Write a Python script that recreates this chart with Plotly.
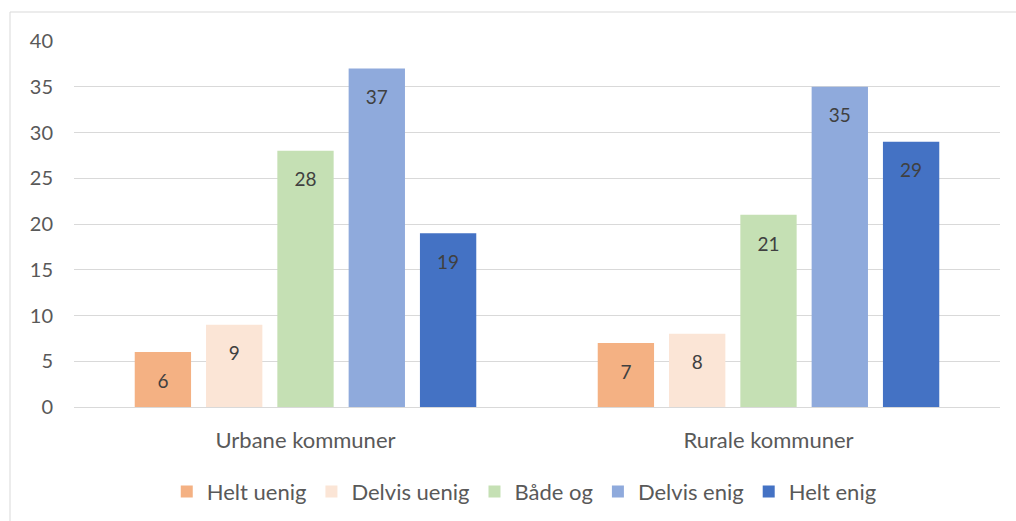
import plotly.graph_objects as go

categories = ['Urbane kommuner', 'Rurale kommuner']
series_names = ['Helt uenig', 'Delvis uenig', 'Både og', 'Delvis enig', 'Helt enig']
helt_uenig = [6, 7]
delvis_uenig = [9, 8]
baade_og = [28, 21]
delvis_enig = [37, 35]
helt_enig = [19, 29]
y_ticks = [0, 5, 10, 15, 20, 25, 30, 35, 40]

series_values = [helt_uenig, delvis_uenig, baade_og, delvis_enig, helt_enig]
series_colors = ['#F4B183', '#FBE5D6', '#C5E0B4', '#8FAADC', '#4472C4']

FONT = 'Lato'
TEXT_COLOR = '#595959'

fig = go.Figure()
for name, vals, col in zip(series_names, series_values, series_colors):
    fig.add_trace(go.Bar(
        x=categories,
        y=vals,
        name=name,
        marker=dict(color=col, line=dict(width=0)),
        text=vals,
        # small spacer line pushes the label a bit down from the bar top
        texttemplate='<span style="font-size:8px">&nbsp;</span><br>%{text}',
        textposition='inside',
        insidetextanchor='end',
        textangle=0,
        textfont=dict(family=FONT, size=19, color='#404040'),
    ))

fig.update_layout(
    barmode='group',
    bargap=0.23,
    bargroupgap=0.21,
    width=1016,
    height=521,
    margin=dict(l=74, r=16, t=41, b=114),
    paper_bgcolor='white',
    plot_bgcolor='white',
    font=dict(family=FONT, color=TEXT_COLOR, size=19),
    showlegend=True,
    legend=dict(
        orientation='h',
        xref='container',
        yref='container',
        x=0.516,
        xanchor='center',
        y=0.056,
        yanchor='middle',
        font=dict(family=FONT, size=22, color=TEXT_COLOR),
        traceorder='normal',
    ),
    xaxis=dict(
        showgrid=False,
        showline=False,
        ticks='',
        automargin=False,
        ticklabelstandoff=18,
        tickfont=dict(size=22, color=TEXT_COLOR),
    ),
    yaxis=dict(
        range=[0, 40],
        tickvals=y_ticks,
        showgrid=True,
        gridcolor='#d9d9d9',
        gridwidth=1,
        zeroline=True,
        zerolinecolor='#d9d9d9',
        zerolinewidth=1,
        showline=False,
        ticks='',
        automargin=False,
        ticklabelstandoff=20,
        tickfont=dict(size=20, color=TEXT_COLOR),
    ),
)

# chart area border
fig.add_shape(
    type='rect', xref='paper', yref='paper',
    x0=-0.0691, x1=1.03, y0=-0.36, y1=1.0792,
    line=dict(color='#d9d9d9', width=1),
    fillcolor='rgba(0,0,0,0)',
    layer='below',
)

fig.write_html('out.html', config={'displayModeBar': False},
               post_script="document.body.style.margin='0';")
